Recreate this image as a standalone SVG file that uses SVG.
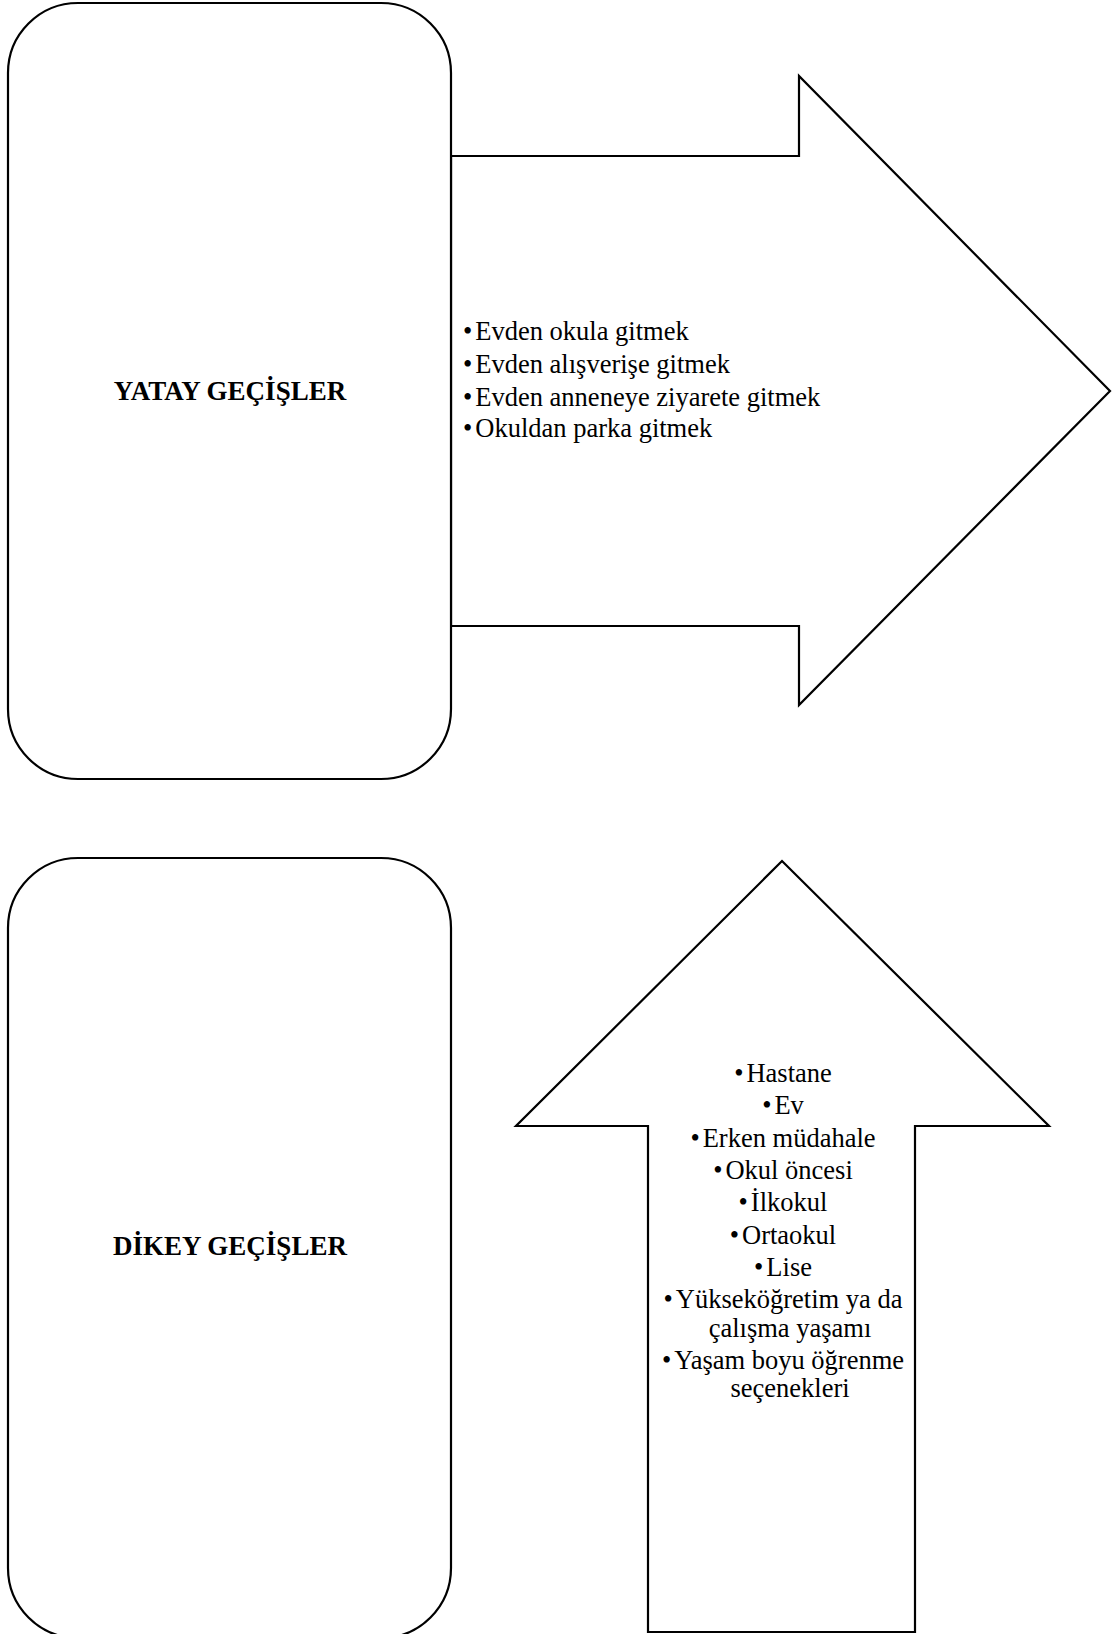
<svg xmlns="http://www.w3.org/2000/svg" width="1113" height="1634" viewBox="0 0 1113 1634">
  <style>
    .shape { fill: #ffffff; stroke: #000000; stroke-width: 2.2; stroke-linejoin: miter; }
    .head { font-family: "Liberation Serif", "Times New Roman", serif; font-weight: bold; font-size: 27px; fill: #000; text-anchor: middle; }
    .item { font-family: "Liberation Serif", "Times New Roman", serif; font-size: 26.5px; fill: #000; }
    .mid { text-anchor: middle; }
  </style>
  <rect width="1113" height="1634" fill="#ffffff"/>

  <!-- connectors: block arrows -->
  <g id="connectors">
    <polygon id="arrow-right" class="shape" points="451,156 799,156 799,76 1110,391 799,705 799,626 451,626"/>
    <polygon id="arrow-up" class="shape" points="648,1632 648,1126 516,1126 782,861 1049,1126 915,1126 915,1632"/>
  </g>

  <g id="node-yatay">
    <rect class="shape" x="8" y="3" width="443" height="776" rx="70" ry="70"/>
    <text class="head" x="230" y="400">YATAY GEÇİŞLER</text>
  </g>

  <g id="node-dikey">
    <rect class="shape" x="8" y="858" width="443" height="780" rx="70" ry="70"/>
    <text class="head" x="230" y="1255">DİKEY GEÇİŞLER</text>
  </g>

  <g id="list-yatay" class="item">
    <text x="463" y="340">•<tspan dx="3">Evden okula gitmek</tspan></text>
    <text x="463" y="373">•<tspan dx="3">Evden alışverişe gitmek</tspan></text>
    <text x="463" y="406">•<tspan dx="3">Evden anneneye ziyarete gitmek</tspan></text>
    <text x="463" y="437">•<tspan dx="3">Okuldan parka gitmek</tspan></text>
  </g>

  <g id="list-dikey" class="item mid">
    <text x="783" y="1082">•<tspan dx="3">Hastane</tspan></text>
    <text x="783" y="1114">•<tspan dx="3">Ev</tspan></text>
    <text x="783" y="1147">•<tspan dx="3">Erken müdahale</tspan></text>
    <text x="783" y="1179">•<tspan dx="3">Okul öncesi</tspan></text>
    <text x="783" y="1211">•<tspan dx="3">İlkokul</tspan></text>
    <text x="783" y="1244">•<tspan dx="3">Ortaokul</tspan></text>
    <text x="783" y="1276">•<tspan dx="3">Lise</tspan></text>
    <text x="783" y="1308">•<tspan dx="3">Yükseköğretim ya da</tspan></text>
    <text x="790" y="1337">çalışma yaşamı</text>
    <text x="783" y="1369">•<tspan dx="3">Yaşam boyu öğrenme</tspan></text>
    <text x="790" y="1397">seçenekleri</text>
  </g>
</svg>
